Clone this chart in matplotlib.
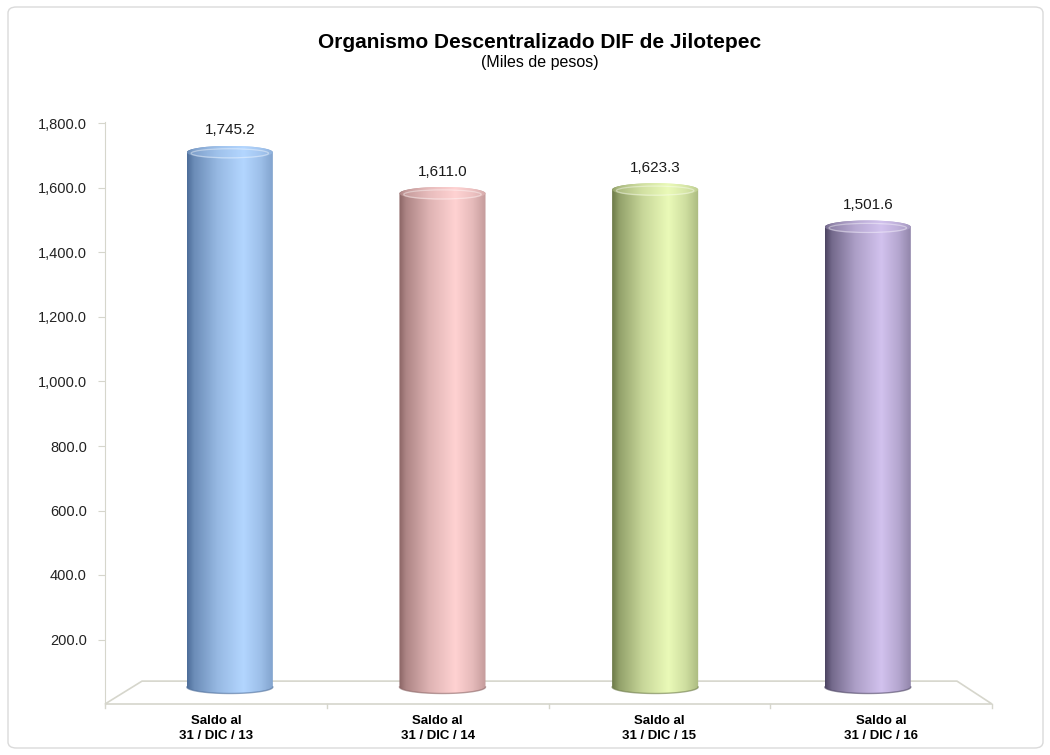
import numpy as np
import matplotlib
matplotlib.use('Agg')
from matplotlib import pyplot as plt
from matplotlib.patches import Ellipse, Polygon, FancyBboxPatch, PathPatch
from matplotlib.path import Path
from matplotlib.colors import to_rgb
from matplotlib.ticker import FuncFormatter

plt.rcParams['font.family'] = ['Liberation Sans', 'DejaVu Sans']

# data
categories = ['Saldo al\n31 / DIC / 13', 'Saldo al\n31 / DIC / 14',
              'Saldo al\n31 / DIC / 15', 'Saldo al\n31 / DIC / 16']
values = [1745.2, 1611.0, 1623.3, 1501.6]
yticks = [200, 400, 600, 800, 1000, 1200, 1400, 1600, 1800]
dark_cols = ['#4d6d99', '#8a6464', '#6c7a48', '#4c4462']
light_cols = ['#b3d6ff', '#ffd2d2', '#eafab8', '#d2c2ee']

title = 'Organismo Descentralizado DIF de Jilotepec'
subtitle = '(Miles de pesos)'

W, H = 1050, 755
fig = plt.figure(figsize=(W / 100, H / 100), dpi=100)
fig.patch.set_facecolor('white')

# outer frame
fig.patches.append(FancyBboxPatch((8 / W, 7 / H), 1035 / W, 741 / H,
                                  boxstyle='round,pad=0,rounding_size=0.008',
                                  transform=fig.transFigure, fill=False,
                                  ec='#dadada', lw=1.0))

fig.text(540 / W, 1 - 43 / H, title, ha='center', va='center',
         fontsize=15, fontweight='bold')
fig.text(540 / W, 1 - 62 / H, subtitle, ha='center', va='center', fontsize=11.5)

ax = fig.add_axes([105 / W, 1 - 704 / H, 887 / W, (704 - 122) / H])
ax.set_facecolor('none')

pxu = 0.3225          # pixels per unit on the front plane
ymax = (704 - 122) / pxu
shrink = 0.95         # perspective factor for the mid-depth plane
base = 52.7           # floor level at mid depth (data units)
halfw = 0.194
ry = 6.5 / pxu

gcol = '#d6d6cc'


def profile(t):
    return np.interp(t, [0, 0.08, 0.35, 0.65, 0.85, 1.0],
                     [0.0, 0.3, 0.72, 1.0, 0.78, 0.5])


def grad_img(dark, light, lift=0.0):
    t = np.linspace(0, 1, 200)
    p = np.clip(profile(t) * (1 - lift) + lift, 0, 1)
    d = np.array(to_rgb(dark))
    l = np.array(to_rgb(light))
    img = d[None, :] + (l - d)[None, :] * p[:, None]
    return img[None, :, :]


def ell_pts(xc, yc, a, b, t0, t1, n=60):
    t = np.linspace(t0, t1, n)
    return np.column_stack([xc + a * np.cos(t), yc + b * np.sin(t)])


# floor
floor = Polygon([(-0.5, 0), (3.5, 0), (3.342, 71), (-0.333, 71)], closed=True,
                fill=False, ec=gcol, lw=1.2, clip_on=False, zorder=1)
ax.add_patch(floor)
for xb in [-0.5, 0.5, 1.5, 2.5, 3.5]:
    ax.plot([xb, xb], [0, -12], color=gcol, lw=1.0, clip_on=False, zorder=1)

for i, v in enumerate(values):
    xc = (i + 0.5) * 0.959 - 0.4166
    top = base + shrink * v
    # body outline: bottom arc (lower half) + top arc (upper half)
    bot_arc = ell_pts(xc, base, halfw, ry, np.pi, 2 * np.pi)
    top_arc = ell_pts(xc, top, halfw, ry, 0, np.pi)
    verts = np.vstack([bot_arc, top_arc, bot_arc[:1]])
    codes = [Path.MOVETO] + [Path.LINETO] * (len(verts) - 2) + [Path.CLOSEPOLY]
    body = PathPatch(Path(verts, codes), fc='none', ec='none', zorder=3)
    ax.add_patch(body)
    im = ax.imshow(grad_img(dark_cols[i], light_cols[i]),
                   extent=[xc - halfw, xc + halfw, base - ry, top + ry],
                   aspect='auto', zorder=3, interpolation='bilinear')
    im.set_clip_path(body)
    # top cap
    cap = Ellipse((xc, top), 2 * halfw, 2 * ry, fc='none', ec='none', zorder=4)
    ax.add_patch(cap)
    im2 = ax.imshow(grad_img(dark_cols[i], light_cols[i], lift=0.3),
                    extent=[xc - halfw, xc + halfw, top - ry, top + ry],
                    aspect='auto', zorder=4, interpolation='bilinear')
    im2.set_clip_path(cap)
    ax.add_patch(Ellipse((xc, top - ry * 0.15), 2 * halfw * 0.9, 2 * ry * 0.7,
                         fill=False, ec='white', lw=0.9, alpha=0.4, zorder=5))
    ax.plot(bot_arc[:, 0], bot_arc[:, 1], color=dark_cols[i], lw=1.0,
            alpha=0.6, zorder=5)
    ax.annotate(f'{v:,.1f}', (xc, top + ry), xytext=(0, 6),
                textcoords='offset points', ha='center', va='bottom',
                fontsize=11, color='#1a1a1a')

ax.set_xlim(-0.5, 3.5)
ax.set_ylim(0, ymax)
ax.set_yticks(yticks)
ax.yaxis.set_major_formatter(FuncFormatter(lambda y, p: f'{y:,.1f}'))
ax.set_xticks(range(len(categories)))
ax.set_xticklabels(categories, fontweight='bold', fontsize=9.5, linespacing=1.3)
ax.tick_params(axis='x', length=0, pad=8)
ax.tick_params(axis='y', length=5, color=gcol, labelsize=10.5, pad=8,
               labelcolor='#222222')
for s in ['top', 'right', 'bottom']:
    ax.spines[s].set_visible(False)
ax.spines['left'].set_color(gcol)
ax.spines['left'].set_bounds(-3, ymax)

fig.savefig('out.png', dpi=100)
